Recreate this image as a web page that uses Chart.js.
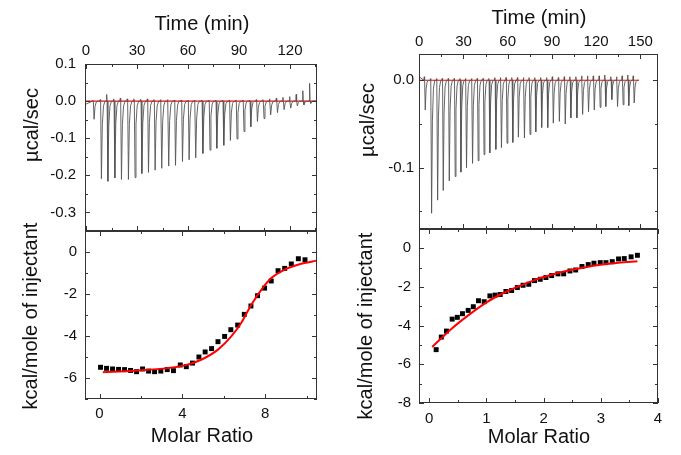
<!DOCTYPE html>
<html>
<head>
<meta charset="utf-8">
<script src="https://cdn.jsdelivr.net/npm/chart.js@4.4.1/dist/chart.umd.min.js"></script>
<style>
  html, body { margin: 0; padding: 0; background: #fff; }
  #wrap { position: relative; width: 681px; height: 455px; overflow: hidden;
          font-family: "Liberation Sans", Arial, sans-serif; color: #111; }
  #wrap canvas { position: absolute; left: 0; top: 0; }
  .lbl { position: absolute; font-size: 20px; line-height: 1; white-space: nowrap;
         transform: translate(-50%, -50%); }
  .rot { transform: translate(-50%, -50%) rotate(-90deg); }
</style>
</head>
<body>
<div id="wrap">
  <canvas id="ltChart" width="681" height="455"></canvas>
  <canvas id="lbChart" width="681" height="455"></canvas>
  <canvas id="rtChart" width="681" height="455"></canvas>
  <canvas id="rbChart" width="681" height="455"></canvas>

  <div class="lbl" style="left:202px;top:23px">Time (min)</div>
  <div class="lbl" style="left:539px;top:17px">Time (min)</div>
  <div class="lbl rot" style="left:31px;top:125px">µcal/sec</div>
  <div class="lbl rot" style="left:367px;top:120px">µcal/sec</div>
  <div class="lbl rot" style="left:30px;top:316px">kcal/mole of injectant</div>
  <div class="lbl rot" style="left:365px;top:326px">kcal/mole of injectant</div>
  <div class="lbl" style="left:202px;top:435px">Molar Ratio</div>
  <div class="lbl" style="left:539px;top:436px">Molar Ratio</div>
</div>

<script>
// ================================
// DATA - left experiment
// ================================
const ltTimeTicks = [0, 30, 60, 90, 120];
const ltPowerTicks = [0.1, 0.0, -0.1, -0.2, -0.3];

// injection times (min) and peak heights (µcal/sec)
const ltInjTime = [4.3, 8.6, 12.4, 16.5, 20.4, 24.5, 28.4, 32.4, 36.3, 40.2, 44.1,
  48.2, 52.2, 56.3, 60.2, 64.1, 68.3, 72.5, 76.5, 80.6, 84.5, 88.4, 92.5, 96.5,
  100.4, 104.3, 108.2, 112.2, 116.1, 120.0, 123.9, 127.8, 131.8];
const ltPeak = [-0.049, -0.209, -0.216, -0.207, -0.211, -0.211, -0.206, -0.195,
  -0.192, -0.186, -0.181, -0.175, -0.173, -0.163, -0.158, -0.153, -0.141, -0.132,
  -0.127, -0.119, -0.106, -0.102, -0.082, -0.069, -0.055, -0.047, -0.037, -0.031,
  -0.023, -0.019, -0.013, -0.010, -0.006];
// small upward blips at each injection
const ltRise = [0.002, 0.004, 0.018, 0.006, 0.008, 0.006, 0.006, 0.005, 0.006,
  0.004, 0.004, 0.004, 0.003, 0.003, 0.003, 0.003, 0.003, 0.003, 0.003, 0.003,
  0.003, 0.003, 0.003, 0.003, 0.004, 0.004, 0.006, 0.008, 0.010, 0.012, 0.018,
  0.028, 0.048];

const lbRatioTicks = [0, 4, 8];
const lbHeatTicks = [0, -2, -4, -6];
const lbRatio = [0.05, 0.34, 0.63, 0.92, 1.21, 1.50, 1.79, 2.08, 2.37, 2.66, 2.96,
  3.27, 3.57, 3.90, 4.19, 4.49, 4.80, 5.10, 5.41, 5.72, 6.04, 6.34, 6.67, 6.99,
  7.31, 7.63, 7.97, 8.29, 8.62, 8.94, 9.26, 9.60, 9.92];
const lbHeat = [-5.49, -5.54, -5.57, -5.59, -5.60, -5.64, -5.70, -5.57, -5.67,
  -5.70, -5.67, -5.60, -5.65, -5.38, -5.46, -5.29, -5.00, -4.76, -4.60, -4.27,
  -4.02, -3.70, -3.48, -2.97, -2.57, -2.08, -1.72, -1.38, -0.89, -0.78, -0.57,
  -0.32, -0.37];
const lbFitRatio = [0.16, 1.69, 3.30, 4.11, 4.91, 5.72, 6.36, 6.84, 7.33, 7.81, 8.29, 8.94, 9.74, 10.55];
const lbFitHeat = [-5.73, -5.65, -5.53, -5.40, -5.13, -4.65, -4.02, -3.38, -2.51, -1.80, -1.24, -0.84, -0.56, -0.40];

// ================================
// DATA - right experiment
// ================================
const rtTimeTicks = [0, 30, 60, 90, 120, 150];
const rtPowerTicks = [0.0, -0.1];

const rtInjTime = [3.6, 7.9, 12.0, 15.8, 19.9, 23.9, 27.8, 31.6, 35.7, 39.5, 43.5,
  47.4, 51.5, 55.3, 59.1, 63.0, 66.8, 70.9, 74.7, 78.6, 82.6, 86.7, 90.5, 94.6,
  98.6, 102.4, 106.5, 110.4, 114.4, 118.3, 122.3, 126.1, 130.2, 134.1, 137.9,
  141.7, 145.4];
const rtPeak = [-0.034, -0.152, -0.137, -0.126, -0.115, -0.110, -0.105, -0.100,
  -0.095, -0.092, -0.085, -0.083, -0.079, -0.077, -0.072, -0.071, -0.065, -0.066,
  -0.062, -0.059, -0.054, -0.054, -0.049, -0.047, -0.050, -0.043, -0.043, -0.039,
  -0.036, -0.034, -0.031, -0.030, -0.022, -0.030, -0.028, -0.029, -0.026];
const rtRise = [0.004, 0.002, 0.002, 0.002, 0.002, 0.002, 0.002, 0.002, 0.002,
  0.002, 0.002, 0.002, 0.003, 0.003, 0.003, 0.003, 0.003, 0.003, 0.003, 0.003,
  0.003, 0.003, 0.004, 0.003, 0.004, 0.004, 0.004, 0.005, 0.005, 0.005, 0.005,
  0.006, 0.004, 0.004, 0.005, 0.006, 0.005];

const rbRatioTicks = [0, 1, 2, 3, 4];
const rbHeatTicks = [0, -2, -4, -6, -8];
const rbRatio = [0.12, 0.21, 0.30, 0.40, 0.49, 0.58, 0.68, 0.77, 0.86, 0.96, 1.06,
  1.15, 1.24, 1.34, 1.44, 1.54, 1.64, 1.74, 1.84, 1.94, 2.04, 2.14, 2.25, 2.35,
  2.46, 2.56, 2.67, 2.78, 2.88, 2.99, 3.09, 3.20, 3.31, 3.41, 3.53, 3.64];
const rbHeat = [-5.24, -4.59, -4.28, -3.66, -3.57, -3.38, -3.21, -3.02, -2.71,
  -2.76, -2.46, -2.42, -2.39, -2.23, -2.18, -2.03, -1.91, -1.86, -1.67, -1.60,
  -1.51, -1.41, -1.32, -1.32, -1.17, -1.12, -0.94, -0.84, -0.77, -0.74, -0.74,
  -0.69, -0.55, -0.53, -0.44, -0.36];
const rbFitRatio = [0.05, 0.39, 0.68, 0.98, 1.27, 1.56, 1.85, 2.14, 2.43, 2.73, 3.02, 3.31, 3.64];
const rbFitHeat = [-5.10, -4.16, -3.47, -2.83, -2.35, -1.97, -1.63, -1.37, -1.15, -0.98, -0.84, -0.75, -0.67];

// shape of one injection spike: [min after injection, fraction of peak]
const spikeShape = [[0, 0], [0.45, 1], [1.0, 0.3], [1.7, 0.06], [2.6, 0]];

// ================================
// HELPERS
// ================================
const Y_AXIS_W = 40;
const X_AXIS_H = 30;

Chart.defaults.font.family = '"Liberation Sans", Arial, sans-serif';
Chart.defaults.font.size = 15;
Chart.defaults.color = "#111";

function buildTrace(t0, level0, t1, times, peaks, rises) {
  const pts = [{ x: t0, y: level0 }];
  times.forEach((t, i) => {
    pts.push({ x: t - 0.5, y: 0 });
    pts.push({ x: t - 0.25, y: rises[i] });
    spikeShape.forEach(([dt, f]) => pts.push({ x: t + dt, y: peaks[i] * f }));
  });
  pts.push({ x: t1, y: 0 });
  return pts;
}

function zip(xs, ys) {
  return xs.map((x, i) => ({ x: x, y: ys[i] }));
}

function minorTicks(major, min, max) {
  const half = Math.abs(major[1] - major[0]) / 2;
  const out = [];
  for (let v = Math.min(...major) - 20 * half; v <= max + 1e-9; v += half) {
    if (v < min - 1e-9) continue;
    if (major.some(m => Math.abs(m - v) < 1e-9)) continue;
    out.push(v);
  }
  return out;
}

// frame box with inward ticks on all four sides
const framePlugin = {
  id: "frame",
  afterDatasetsDraw(chart, args, opts) {
    const { ctx, chartArea: a, scales } = chart;
    const xs = scales.x, ys = scales.y;
    ctx.save();
    ctx.strokeStyle = "#333";
    ctx.lineWidth = 1;
    ctx.beginPath();
    const xMark = (v, len) => {
      const p = Math.round(xs.getPixelForValue(v)) + 0.5;
      ctx.moveTo(p, a.top); ctx.lineTo(p, a.top + len);
      ctx.moveTo(p, a.bottom); ctx.lineTo(p, a.bottom - len);
    };
    const yMark = (v, len) => {
      const p = Math.round(ys.getPixelForValue(v)) + 0.5;
      ctx.moveTo(a.left, p); ctx.lineTo(a.left + len, p);
      ctx.moveTo(a.right, p); ctx.lineTo(a.right - len, p);
    };
    opts.xMajor.forEach(v => xMark(v, 5));
    minorTicks(opts.xMajor, xs.min, xs.max).forEach(v => xMark(v, 3));
    opts.yMajor.forEach(v => yMark(v, 5));
    minorTicks(opts.yMajor, ys.min, ys.max).forEach(v => yMark(v, 3));
    ctx.stroke();
    ctx.strokeRect(a.left + 0.5, a.top + 0.5, a.right - a.left - 1, a.bottom - a.top - 1);
    ctx.restore();
  }
};

function makePanel(id, box, cfg) {
  const xTop = cfg.xPos === "top";
  return new Chart(document.getElementById(id), {
    type: "scatter",
    data: { datasets: cfg.datasets },
    options: {
      responsive: false,
      animation: false,
      events: [],
      layout: {
        padding: {
          left: box.left - Y_AXIS_W,
          right: 681 - box.right,
          top: xTop ? box.top - X_AXIS_H : box.top,
          bottom: xTop ? 455 - box.bottom : 455 - box.bottom - X_AXIS_H
        }
      },
      plugins: {
        legend: { display: false },
        tooltip: { enabled: false },
        frame: { xMajor: cfg.xTicks, yMajor: cfg.yTicks }
      },
      scales: {
        x: {
          type: "linear",
          position: cfg.xPos,
          min: cfg.xMin, max: cfg.xMax,
          grid: { display: false, drawTicks: false },
          border: { display: false },
          afterBuildTicks: s => { s.ticks = cfg.xTicks.map(v => ({ value: v })); },
          afterFit: s => { s.height = X_AXIS_H; },
          ticks: { padding: cfg.xPad, autoSkip: false, maxRotation: 0,
                   font: { lineHeight: 1.2 }, callback: v => String(v) }
        },
        y: {
          type: "linear",
          position: "left",
          min: cfg.yMin, max: cfg.yMax,
          grid: { display: false, drawTicks: false },
          border: { display: false },
          afterBuildTicks: s => { s.ticks = cfg.yTicks.map(v => ({ value: v })); },
          afterFit: s => { s.width = Y_AXIS_W; },
          ticks: { padding: cfg.yPad, autoSkip: false, callback: cfg.yFmt }
        }
      }
    },
    plugins: [framePlugin]
  });
}

const traceStyle = { showLine: true, borderColor: "#555", borderWidth: 0.9,
                     pointRadius: 0, tension: 0 };
const baseStyle = { showLine: true, borderColor: "#ff0000", borderWidth: 1.2, pointRadius: 0 };
const dotStyle = { pointStyle: "rect", pointRadius: 3.5, backgroundColor: "#000",
                   borderColor: "#000", borderWidth: 0, showLine: false };
const fitStyle = { showLine: true, borderColor: "#ff0000", borderWidth: 2, pointRadius: 0,
                   cubicInterpolationMode: "monotone" };

// ================================
// PANELS
// ================================
makePanel("ltChart", { left: 85, right: 317, top: 64, bottom: 231 }, {
  xPos: "top", xMin: -0.6, xMax: 135.9, yMin: -0.35, yMax: 0.1,
  xTicks: ltTimeTicks, yTicks: ltPowerTicks, xPad: 4, yPad: 9,
  yFmt: v => v.toFixed(1),
  datasets: [
    Object.assign({ data: buildTrace(0, -0.008, 135.5, ltInjTime, ltPeak, ltRise) }, traceStyle),
    Object.assign({ data: [{ x: -0.6, y: 0 }, { x: 135.9, y: 0 }] }, baseStyle)
  ]
});

makePanel("lbChart", { left: 85, right: 317, top: 231, bottom: 399 }, {
  xPos: "bottom", xMin: -0.7, xMax: 10.5, yMin: -7, yMax: 1,
  xTicks: lbRatioTicks, yTicks: lbHeatTicks, xPad: 6, yPad: 8,
  yFmt: v => String(v),
  datasets: [
    Object.assign({ data: zip(lbFitRatio, lbFitHeat) }, fitStyle),
    Object.assign({ data: zip(lbRatio, lbHeat) }, dotStyle)
  ]
});

makePanel("rtChart", { left: 419, right: 658, top: 54, bottom: 229 }, {
  xPos: "top", xMin: -0.2, xMax: 162, yMin: -0.17, yMax: 0.03,
  xTicks: rtTimeTicks, yTicks: rtPowerTicks, xPad: 3, yPad: 5,
  yFmt: v => v.toFixed(1),
  datasets: [
    Object.assign({ data: buildTrace(0, 0.004, 149, rtInjTime, rtPeak, rtRise) }, traceStyle),
    Object.assign({ data: [{ x: 0, y: 0 }, { x: 149, y: 0 }] }, baseStyle)
  ]
});

makePanel("rbChart", { left: 419, right: 658, top: 229, bottom: 403 }, {
  xPos: "bottom", xMin: -0.18, xMax: 4.0, yMin: -8, yMax: 1,
  xTicks: rbRatioTicks, yTicks: rbHeatTicks, xPad: 7, yPad: 8,
  yFmt: v => String(v),
  datasets: [
    Object.assign({ data: zip(rbFitRatio, rbFitHeat) }, fitStyle),
    Object.assign({ data: zip(rbRatio, rbHeat) }, dotStyle)
  ]
});
</script>
</body>
</html>
